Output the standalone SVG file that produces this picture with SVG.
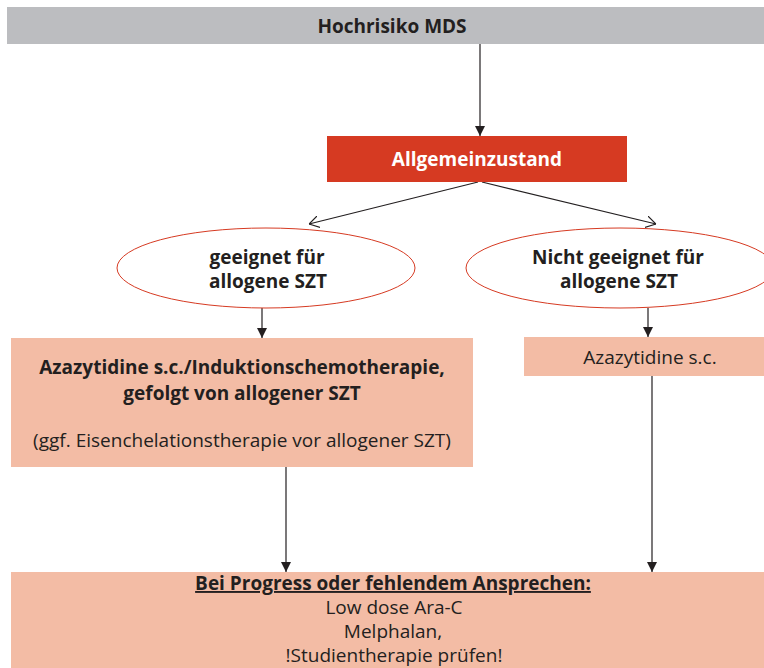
<svg xmlns="http://www.w3.org/2000/svg" width="764" height="668" viewBox="0 0 764 668">
<style>
text{font-family:"Open Sans","Noto Sans","DejaVu Sans",sans-serif;font-size:19px;fill:#231f20;text-anchor:middle}
.b{font-weight:bold}
.w{fill:#ffffff}
.box{fill:#f3bca5}
.ell{fill:#ffffff;stroke:#d63a22;stroke-width:1}
.ln{stroke:#231f20;stroke-width:1.2;fill:none}
</style>
<defs>
<marker id="fa" viewBox="0 0 10 10" refX="10" refY="5" markerWidth="10" markerHeight="10" markerUnits="userSpaceOnUse" orient="auto"><path d="M0,0 L10,5 L0,10 z" fill="#231f20"/></marker>
<marker id="oa" viewBox="0 0 10 12" refX="10" refY="6" markerWidth="10" markerHeight="12" markerUnits="userSpaceOnUse" orient="auto"><path d="M0,0 L10,6 L0,12" fill="none" stroke="#231f20" stroke-width="1.2"/></marker>
</defs>
<g id="connectors">
<line class="ln" x1="480" y1="44" x2="480" y2="136" marker-end="url(#fa)"/>
<line class="ln" x1="478" y1="182" x2="309" y2="224" marker-end="url(#oa)"/>
<line class="ln" x1="482" y1="182" x2="656" y2="224" marker-end="url(#oa)"/>
<line class="ln" x1="262" y1="308" x2="262" y2="338" marker-end="url(#fa)"/>
<line class="ln" x1="648" y1="308" x2="648" y2="337" marker-end="url(#fa)"/>
<line class="ln" x1="286" y1="467" x2="286" y2="572" marker-end="url(#fa)"/>
<line class="ln" x1="652" y1="376" x2="652" y2="572" marker-end="url(#fa)"/>
</g>
<g id="top">
<rect x="7" y="7" width="757" height="37" fill="#bcbdc0"/>
<text class="b" x="392" y="33">Hochrisiko MDS</text>
</g>
<g id="allgemein">
<rect x="327" y="136" width="300" height="46" fill="#d63a22"/>
<text class="b w" x="477" y="166">Allgemeinzustand</text>
</g>
<g id="geeignet">
<ellipse class="ell" cx="266" cy="268" rx="149" ry="40"/>
<text class="b" x="267" y="264">geeignet für</text>
<text class="b" x="268" y="288">allogene SZT</text>
</g>
<g id="nichtgeeignet">
<ellipse class="ell" cx="620" cy="268" rx="154" ry="40"/>
<text class="b" x="618" y="264">Nicht geeignet für</text>
<text class="b" x="619" y="288">allogene SZT</text>
</g>
<g id="links">
<rect class="box" x="11" y="338" width="462" height="129"/>
<text class="b" x="242" y="374">Azazytidine s.c./Induktionschemotherapie,</text>
<text class="b" x="242" y="400">gefolgt von allogener SZT</text>
<text x="242" y="447">(ggf. Eisenchelationstherapie vor allogener SZT)</text>
</g>
<g id="rechts">
<rect class="box" x="524" y="337" width="240" height="39"/>
<text x="650" y="364">Azazytidine s.c.</text>
</g>
<g id="unten">
<rect class="box" x="11" y="572" width="753" height="96"/>
<text class="b" x="393" y="590" text-decoration="underline">Bei Progress oder fehlendem Ansprechen:</text>
<text x="394" y="614">Low dose Ara-C</text>
<text x="393" y="638">Melphalan,</text>
<text x="394" y="662">!Studientherapie prüfen!</text>
</g>
</svg>
